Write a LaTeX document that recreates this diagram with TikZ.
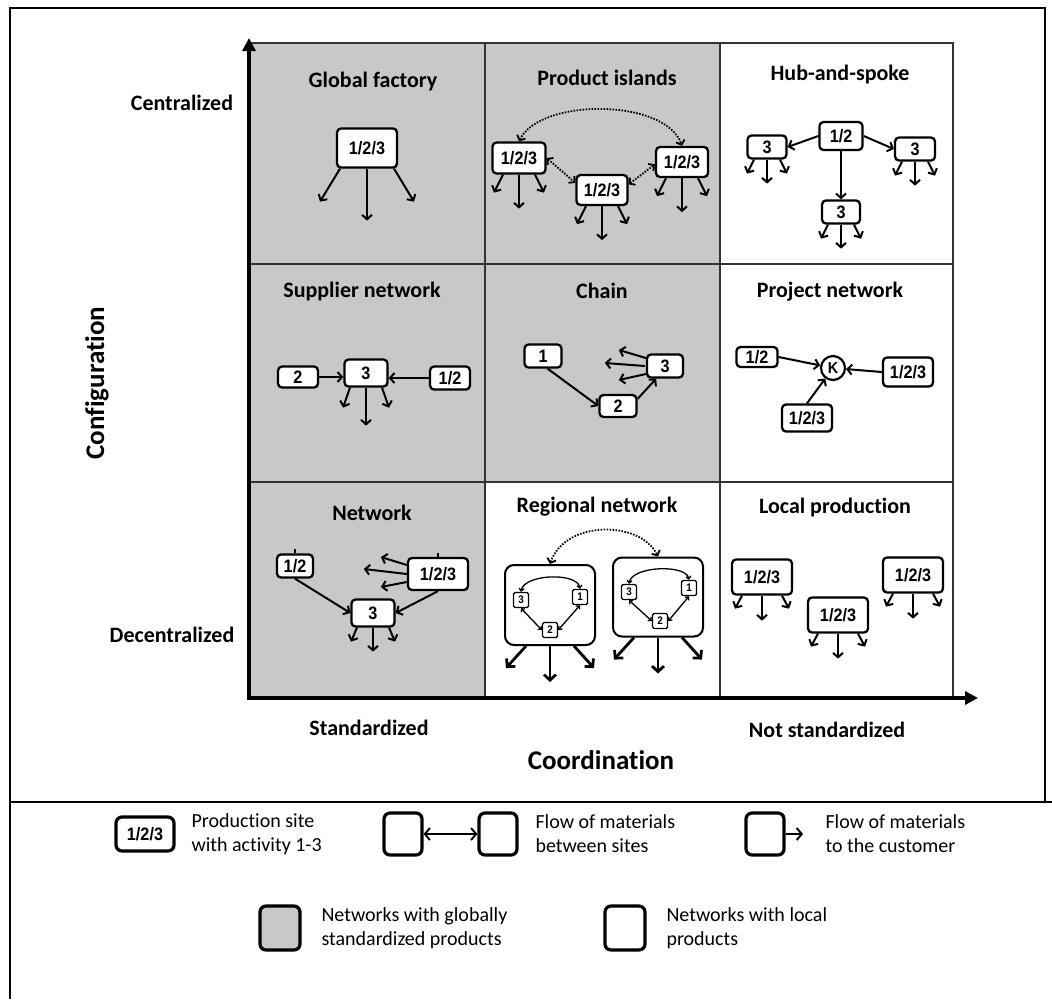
\documentclass[tikz,border=0pt]{standalone}
\usepackage{fontspec}
\setmainfont{Carlito}[Ligatures=NoCommon]
\newfontfamily\boxfont[FakeStretch=0.9]{Liberation Sans}
\usetikzlibrary{arrows.meta}
\definecolor{cellgray}{RGB}{200,200,200}
\newcommand{\cust}[6][carr]{%
  \draw[#1] ([xshift=-#3pt]#2.south) -- ++(-#4,#5);
  \draw[#1] (#2.south) -- ++(0,#6);
  \draw[#1] ([xshift=#3pt]#2.south) -- ++(#4,#5);
}
\begin{document}
\begin{tikzpicture}[x=1pt,y=-1pt,
  ttl/.style={font=\fontsize{22}{24}\selectfont\bfseries},
  axlab/.style={font=\fontsize{22}{24}\selectfont\bfseries},
  bigax/.style={font=\fontsize{27}{30}\selectfont\bfseries},
  site/.style={draw, line width=2.3pt, rounded corners=4pt, fill=white, inner sep=0pt,
    font=\boxfont\fontsize{18}{18}\selectfont\bfseries},
  mini/.style={draw, line width=1.4pt, rounded corners=1.5pt, fill=white, inner sep=0pt,
    minimum width=15pt, minimum height=15pt, font=\boxfont\fontsize{11}{11}\selectfont\bfseries},
  region/.style={draw, line width=2pt, rounded corners=9pt, inner sep=0pt},
  carr/.style={line width=2pt, -{Straight Barb[length=4.5pt,width=10pt]}},
  bigcarr/.style={line width=2.8pt, -{Straight Barb[length=5.5pt,width=12pt]}},
  flow/.style={line width=2pt, -{Straight Barb[length=4.5pt,width=10pt]}},
  miniflow/.style={line width=1.3pt, {Straight Barb[length=2.5pt,width=5pt]}-{Straight Barb[length=2.5pt,width=5pt]}},
  dflow/.style={line width=1.8pt, dash pattern=on 1.6pt off 1.4pt,
    {Straight Barb[length=4pt,width=9pt]}-{Straight Barb[length=4pt,width=9pt]}},
  gridline/.style={line width=2.4pt, black!80},
  axis/.style={line width=3.5pt, line cap=rect, -{Triangle[length=13pt,width=13pt]}},
  legtxt/.style={font=\fontsize{20}{24}\selectfont, align=left, anchor=west},
  legbox/.style={draw, line width=3.2pt, rounded corners=6pt, inner sep=0pt}
]
\useasboundingbox (0,0) rectangle (1052,999);
% outer frame
\draw[line width=1.5pt] (1045,802) -- (1045,8) -- (10,8) -- (10,999);
\draw[line width=1.5pt] (10,802) -- (1052,802);

% cells
\fill[cellgray] (249,43) rectangle (720,482);
\fill[cellgray] (249,482) rectangle (485,698);
\draw[gridline] (249,43) -- (953,43) -- (953,698);
\draw[gridline] (485,43) -- (485,698);
\draw[gridline] (720,43) -- (720,698);
\draw[gridline] (249,264) -- (953,264);
\draw[gridline] (249,482) -- (953,482);
\coordinate (O) at (249,698);
\coordinate (ytip) at (249,38);
\coordinate (xtip) at (978,698);
\draw[axis] (O) -- (ytip);
\draw[axis] (O) -- (xtip);

% axis labels
\node[axlab] (cen) at (182,103) {Centralized};
\node[axlab] (dec) at (172,635) {Decentralized};
\node[bigax, rotate=90] (conf) at (97,383) {Configuration};
\node[axlab] (std) at (369,728) {Standardized};
\node[axlab] (nstd) at (827,730) {Not standardized};
\node[bigax] (coord) at (601,760) {Coordination};

% ---- Global factory
\node[ttl] (t11) at (373,82) {Global factory};
\node[site, minimum width=60pt, minimum height=39pt] (gf) at (367,148) {1/2/3};
\cust{gf}{27}{20}{33}{52}

% ---- Product islands
\node[ttl] (t12) at (607,78) {Product islands};
\node[site, minimum width=53pt, minimum height=31pt] (pi1) at (519,158) {1/2/3};
\node[site, minimum width=51pt, minimum height=30pt] (pi2) at (602,190) {1/2/3};
\node[site, minimum width=52pt, minimum height=30pt] (pi3) at (682,162) {1/2/3};
\draw[dflow] (pi1.north) .. controls (540,98) and (665,98) .. (pi3.north);
\draw[dflow] (pi1.east) -- (pi2.165);
\draw[dflow] (pi2.12) -- (pi3.185);
\cust{pi1}{16}{9}{18}{34}
\cust{pi2}{16}{9}{18}{34}
\cust{pi3}{16}{9}{18}{34}

% ---- Hub-and-spoke
\node[ttl] (t13) at (840,75) {Hub-and-spoke};
\node[site, minimum width=43pt, minimum height=28pt] (hs0) at (841,136) {1/2};
\node[site, minimum width=39pt, minimum height=23pt] (hs1) at (767,147) {3};
\node[site, minimum width=40pt, minimum height=23pt] (hs2) at (915,149) {3};
\node[site, minimum width=38pt, minimum height=23pt] (hs3) at (841,212) {3};
\draw[flow] (hs0.west) -- (hs1.east);
\draw[flow] (hs0.east) -- (hs2.west);
\draw[flow] (hs0.south) -- (hs3.north);
\cust{hs1}{13}{7}{14}{24}
\cust{hs2}{13}{7}{14}{24}
\cust{hs3}{13}{7}{14}{24}

% ---- Supplier network
\node[ttl] (t21) at (362,292) {Supplier network};
\node[site, minimum width=40pt, minimum height=21pt] (sn2) at (298,377) {2};
\node[site, minimum width=43pt, minimum height=27pt] (sn3) at (366,373) {3};
\node[site, minimum width=40pt, minimum height=23pt] (sn1) at (450,378) {1/2};
\draw[flow] (sn2.east) -- (sn3.west |- sn2.east);
\draw[flow] (sn1.west) -- (sn3.east |- sn1.west);
\cust{sn3}{16}{7}{20}{38}

% ---- Chain
\node[ttl] (t22) at (602,291) {Chain};
\node[site, minimum width=37pt, minimum height=23pt] (c1) at (543,356) {1};
\node[site, minimum width=37pt, minimum height=22pt] (c2) at (618,406) {2};
\node[site, minimum width=36pt, minimum height=23pt] (c3) at (665,366) {3};
\draw[flow] (c1.290) -- (c2.west);
\draw[flow] (c2.20) -- (c3.235);
\draw[flow] ([yshift=8pt]c3.west) -- ++(-27,-8);
\draw[flow] ([xshift=-1pt]c3.west) -- ++(-40,-3);
\draw[flow] ([yshift=-8pt]c3.west) -- ++(-27,6);

% ---- Project network
\node[ttl] (t23) at (830,292) {Project network};
\node[site, minimum width=41pt, minimum height=20pt] (pn1) at (757,357) {1/2};
\node[draw, circle, line width=2.2pt, fill=white, inner sep=0pt, minimum size=24pt,
  font=\boxfont\fontsize{16}{16}\selectfont\bfseries] (K) at (833,368) {K};
\node[site, minimum width=50pt, minimum height=29pt] (pn2) at (908,372) {1/2/3};
\node[site, minimum width=50pt, minimum height=27pt] (pn3) at (807,418) {1/2/3};
\draw[flow] (pn1.east) -- (K);
\draw[flow] (pn2.west) -- (K);
\draw[flow] (pn3.north) -- (K);

% ---- Network
\node[ttl] (t31) at (372,513) {Network};
\node[site, minimum width=36pt, minimum height=23pt] (nw1) at (295,566) {1/2};
\node[site, minimum width=60pt, minimum height=32pt] (nw2) at (438,574) {1/2/3};
\node[site, minimum width=43pt, minimum height=27pt] (nw3) at (373,613) {3};
\draw[line width=1.5pt] (nw1.north) -- ++(0,-4);
\draw[line width=1.5pt] (nw2.north) -- ++(0,-4);
\draw[flow] (nw1.south) -- (nw3.west);
\draw[flow] (nw2.south) -- (nw3.east);
\draw[flow] ([yshift=9pt]nw2.west) -- ++(-26,-8);
\draw[flow] (nw2.west) -- ++(-43,-5);
\draw[flow] ([yshift=-8pt]nw2.west) -- ++(-26,5);
\cust{nw3}{16}{6}{14}{24}

% ---- Regional network
\node[ttl] (t32) at (597,507) {Regional network};
\node[region, minimum width=90pt, minimum height=80pt] (rgL) at (550,605) {};
\node[region, minimum width=90pt, minimum height=79pt] (rgR) at (658,597) {};
\draw[dflow] (rgL.north) .. controls (565,520) and (640,520) .. (rgR.north);
\node[mini] (rl3) at (521,600) {3};
\node[mini] (rl1) at (580,597) {1};
\node[mini] (rl2) at (550,630) {2};
\node[mini] (rr3) at (629,592) {3};
\node[mini] (rr1) at (689,588) {1};
\node[mini] (rr2) at (660,621) {2};
\draw[miniflow] (rl3.north) .. controls (524,574) and (577,572) .. (rl1.north);
\draw[miniflow] (rl3.south) -- (rl2.west);
\draw[miniflow] (rl2.east) -- (rl1.south);
\draw[miniflow] (rr3.north) .. controls (632,566) and (686,564) .. (rr1.north);
\draw[miniflow] (rr3.south) -- (rr2.west);
\draw[miniflow] (rr2.east) -- (rr1.south);
\cust[bigcarr]{rgL}{24}{20}{22}{36}
\cust[bigcarr]{rgR}{24}{20}{22}{36}

% ---- Local production
\node[ttl] (t33) at (835,508) {Local production};
\node[site, minimum width=60pt, minimum height=35pt] (lp1) at (762,577) {1/2/3};
\node[site, minimum width=60pt, minimum height=35pt] (lp2) at (838,615) {1/2/3};
\node[site, minimum width=60pt, minimum height=35pt] (lp3) at (913,575) {1/2/3};
\cust{lp1}{20}{7}{13}{25}
\cust{lp2}{20}{7}{13}{25}
\cust{lp3}{20}{7}{13}{25}

% ---- Legend
\node[legbox, minimum width=58pt, minimum height=34pt,
  font=\boxfont\fontsize{18}{18}\selectfont\bfseries] (L1) at (145,834) {1/2/3};
\node[legtxt] (L1t) at (188,834) {Production site\\with activity 1-3};
\node[legbox, minimum width=38pt, minimum height=42pt] (L2a) at (403,834) {};
\node[legbox, minimum width=38pt, minimum height=42pt] (L2b) at (498,834) {};
\draw[line width=2pt, {Straight Barb[length=5pt,width=12pt]}-{Straight Barb[length=5pt,width=12pt]}] (L2a.east) -- (L2b.west);
\node[legtxt] (L2t) at (532,834) {Flow of materials\\between sites};
\node[legbox, minimum width=38pt, minimum height=42pt] (L3) at (765,834) {};
\coordinate (L3e) at (803,834);
\draw[line width=2pt, -{Straight Barb[length=5pt,width=12pt]}] (L3.east) -- (L3e);
\node[legtxt] (L3t) at (822,834) {Flow of materials\\to the customer};
\node[legbox, fill=cellgray, minimum width=40pt, minimum height=44pt] (L4) at (280,928) {};
\node[legtxt] (L4t) at (318,928) {Networks with globally\\standardized products};
\node[legbox, minimum width=40pt, minimum height=44pt] (L5) at (625,928) {};
\node[legtxt] (L5t) at (663,928) {Networks with local\\products};
\end{tikzpicture}
\end{document}
